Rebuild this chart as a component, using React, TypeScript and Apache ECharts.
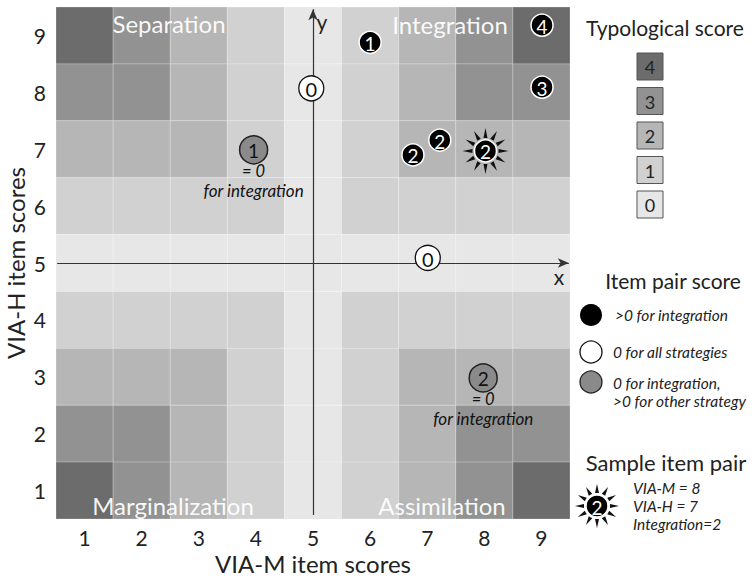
import React, { useEffect, useRef } from "react";
import * as echarts from "echarts";

// ---------- data ----------
const xTicks = [1, 2, 3, 4, 5, 6, 7, 8, 9];
const yTicks = [1, 2, 3, 4, 5, 6, 7, 8, 9];

// typological score per cell, rows from VIA-H = 9 (top) down to 1 (bottom), columns VIA-M = 1..9
const scoreRowsTopDown = [
  [4, 3, 2, 1, 0, 1, 2, 3, 4],
  [3, 3, 2, 1, 0, 1, 2, 3, 3],
  [2, 2, 2, 1, 0, 1, 2, 2, 2],
  [1, 1, 1, 1, 0, 1, 1, 1, 1],
  [0, 0, 0, 0, 0, 0, 0, 0, 0],
  [1, 1, 1, 1, 0, 1, 1, 1, 1],
  [2, 2, 2, 1, 0, 1, 2, 2, 2],
  [3, 3, 2, 1, 0, 1, 2, 3, 3],
  [4, 3, 2, 1, 0, 1, 2, 3, 4],
];
const scoreColors = ["#e7e7e7", "#d1d1d1", "#b6b6b6", "#929292", "#6c6c6c"];
const legendScores = [4, 3, 2, 1, 0];

// item pairs
const pointX = [6.0, 9.01, 9.01, 6.75, 7.22, 8.02, 4.97, 7.01, 3.96, 7.98];
const pointY = [8.88, 9.18, 8.09, 6.9, 7.16, 6.97, 8.07, 5.09, 6.99, 2.98];
const pointScore = ["1", "4", "3", "2", "2", "2", "0", "0", "1", "2"];
const pointKind = ["pos", "pos", "pos", "pos", "pos", "sample", "zero", "zero", "grey", "grey"];
const pointNote = ["", "", "", "", "", "", "", "", "= 0|for integration", "= 0|for integration"];

const axisOrigin = 5;
const quadrantLabels = ["Separation", "Integration", "Marginalization", "Assimilation"];

const FONT = "Lato, 'Open Sans', sans-serif";

function rays(cx: number, cy: number, r1: number, r2: number, w: number) {
  const out: any[] = [];
  for (let k = 0; k < 12; k++) {
    const a = (k * Math.PI) / 6;
    const ca = Math.cos(a), sa = Math.sin(a);
    out.push({
      type: "polygon",
      z: 100,
      shape: {
        points: [
          [cx + r1 * ca - w * sa, cy + r1 * sa + w * ca],
          [cx + r1 * ca + w * sa, cy + r1 * sa - w * ca],
          [cx + r2 * ca, cy + r2 * sa],
        ],
      },
      style: { fill: "#111" },
    });
  }
  return out;
}

function txt(x: number, y: number, text: string, font: string, fill: string, align = "center", extra: any = {}) {
  return {
    type: "text",
    x,
    y,
    z: 100,
    style: { text, font, fill, align, verticalAlign: "middle", textAlign: align, textVerticalAlign: "middle", ...extra },
  };
}

export default function App() {
  const ref = useRef<HTMLDivElement>(null);
  useEffect(() => {
    if (!ref.current) return;
    const chart = echarts.init(ref.current, undefined, { renderer: "svg" });

    const cellData: number[][] = [];
    scoreRowsTopDown.forEach((row, ri) => {
      const y = yTicks[yTicks.length - 1 - ri];
      row.forEach((s, ci) => cellData.push([xTicks[ci], y, s]));
    });
    const pointData = pointX.map((x, i) => [x, pointY[i], i]);

    const legendGraphic: any[] = [];
    legendGraphic.push(txt(665, 27, "Typological score", `21px ${FONT}`, "#222"));
    legendScores.forEach((s, i) => {
      const top = 53 + i * 34.5;
      legendGraphic.push({
        type: "rect",
        z: 100,
        shape: { x: 637, y: top, width: 26, height: 27 },
        style: { fill: scoreColors[s], stroke: "#555", lineWidth: 1 },
      });
      legendGraphic.push(txt(650, top + 14, String(s), `18px ${FONT}`, "#222"));
    });
    legendGraphic.push(txt(673, 280, "Item pair score", `21px ${FONT}`, "#222"));
    legendGraphic.push({ type: "circle", z: 100, shape: { cx: 591, cy: 315, r: 11 }, style: { fill: "#000" } });
    legendGraphic.push(txt(615, 315, ">0 for integration", `italic 15.5px ${FONT}`, "#222", "left"));
    legendGraphic.push({ type: "circle", z: 100, shape: { cx: 591, cy: 352, r: 11 }, style: { fill: "#fff", stroke: "#111", lineWidth: 1.3 } });
    legendGraphic.push(txt(613, 352, "0 for all strategies", `italic 15.5px ${FONT}`, "#222", "left"));
    legendGraphic.push({ type: "circle", z: 100, shape: { cx: 591, cy: 382, r: 11 }, style: { fill: "#8a8a8a", stroke: "#222", lineWidth: 1.3 } });
    legendGraphic.push(txt(613, 383, "0 for integration,", `italic 15.5px ${FONT}`, "#222", "left"));
    legendGraphic.push(txt(613, 401, ">0 for other strategy", `italic 15.5px ${FONT}`, "#222", "left"));
    legendGraphic.push(txt(666, 462, "Sample item pair", `22px ${FONT}`, "#222"));
    rays(597, 506, 13, 22, 2).forEach((r) => legendGraphic.push(r));
    legendGraphic.push({ type: "circle", z: 100, shape: { cx: 597, cy: 506, r: 11 }, style: { fill: "#000", stroke: "#fff", lineWidth: 1.5 } });
    legendGraphic.push(txt(597, 507, "2", `19px ${FONT}`, "#fff"));
    legendGraphic.push(txt(633, 488, "VIA-M = 8", `italic 15.5px ${FONT}`, "#222", "left"));
    legendGraphic.push(txt(633, 506, "VIA-H = 7", `italic 15.5px ${FONT}`, "#222", "left"));
    legendGraphic.push(txt(633, 524, "Integration=2", `italic 15.5px ${FONT}`, "#222", "left"));

    // axis letters and quadrant labels
    const qFont = `24px ${FONT}`;
    const qFill = "rgba(255,255,255,0.95)";
    const plotGraphic: any[] = [
      txt(322, 21, "y", `21px ${FONT}`, "#222"),
      txt(559, 276, "x", `21px ${FONT}`, "#222"),
      txt(169, 23, quadrantLabels[0], qFont, qFill),
      txt(450, 24, quadrantLabels[1], qFont, qFill),
      txt(173, 505, quadrantLabels[2], qFont, qFill),
      txt(442, 505, quadrantLabels[3], qFont, qFill),
    ];

    const option: any = {
      animation: false,
      grid: { left: 56, right: 185, top: 7, bottom: 58, containLabel: false, outerBoundsMode: "none" },
      xAxis: {
        type: "value",
        min: 0.5,
        max: 9.5,
        axisLine: { show: false },
        axisTick: { show: false },
        splitLine: { show: false },
        axisLabel: { customValues: xTicks, fontSize: 21, color: "#222", margin: 8, fontFamily: FONT },
        name: "VIA-M item scores",
        nameLocation: "middle",
        nameGap: 32,
        nameMoveOverlap: false,
        nameTextStyle: { fontSize: 24, color: "#222", fontFamily: FONT },
      },
      yAxis: {
        type: "value",
        min: 0.5,
        max: 9.5,
        axisLine: { show: false },
        axisTick: { show: false },
        splitLine: { show: false },
        axisLabel: { customValues: yTicks, fontSize: 21, color: "#222", margin: 10, fontFamily: FONT },
        name: "VIA-H item scores",
        nameLocation: "middle",
        nameGap: 29,
        nameMoveOverlap: false,
        nameTextStyle: { fontSize: 24, color: "#222", fontFamily: FONT },
      },
      series: [
        {
          type: "custom",
          data: cellData,
          encode: { x: 0, y: 1 },
          silent: true,
          renderItem: (params: any, api: any) => {
            const x = api.value(0), y = api.value(1), s = api.value(2);
            const p0 = api.coord([x - 0.5, y + 0.5]);
            const p1 = api.coord([x + 0.5, y - 0.5]);
            return {
              type: "rect",
              shape: { x: p0[0], y: p0[1], width: p1[0] - p0[0], height: p1[1] - p0[1] },
              style: { fill: scoreColors[s], stroke: "rgba(255,255,255,0.22)", lineWidth: 1 },
            };
          },
          markLine: {
            silent: true,
            symbol: ["none", "arrow"],
            symbolSize: [7, 11],
            label: { show: false },
            lineStyle: { color: "#333", width: 1.2, type: "solid" },
            data: [
              [{ coord: [0.52, axisOrigin] }, { coord: [9.48, axisOrigin] }],
              [{ coord: [axisOrigin, 0.57] }, { coord: [axisOrigin, 9.46] }],
            ],
          },
        },
        {
          type: "custom",
          data: pointData,
          encode: { x: 0, y: 1 },
          silent: true,
          z: 5,
          renderItem: (params: any, api: any) => {
            const i = params.dataIndex;
            const p = api.coord([api.value(0), api.value(1)]);
            const kind = pointKind[i];
            const children: any[] = [];
            let r = 11, fill = "#000", stroke = "#fff", tfill = "#fff", lw = 1.5;
            if (kind === "zero") { r = 12.5; fill = "#fff"; stroke = "#111"; tfill = "#111"; lw = 1.3; }
            if (kind === "grey") { r = 14; fill = "#8a8a8a"; stroke = "#222"; tfill = "#111"; lw = 1.5; }
            if (kind === "sample") rays(p[0], p[1], 13, 23, 2).forEach((e) => children.push(e));
            children.push({ type: "circle", shape: { cx: p[0], cy: p[1], r }, style: { fill, stroke, lineWidth: lw } });
            children.push(txt(p[0], p[1] + 1, pointScore[i], `${kind === "grey" ? 19 : kind === "zero" ? 20 : 19}px ${FONT}`, tfill));
            if (pointNote[i]) {
              const lines = pointNote[i].split("|");
              children.push(txt(p[0], p[1] + 21, lines[0], `italic 16.5px ${FONT}`, "#111"));
              children.push(txt(p[0], p[1] + 41, lines[1], `italic 17px ${FONT}`, "#111"));
            }
            return { type: "group", children };
          },
        },
      ],
      graphic: [...plotGraphic, ...legendGraphic],
    };
    chart.setOption(option);
    return () => chart.dispose();
  }, []);
  return (
    <div
      ref={ref}
      style={{ position: "fixed", left: 0, top: 0, width: 755, height: 577, background: "#fff" }}
    />
  );
}
